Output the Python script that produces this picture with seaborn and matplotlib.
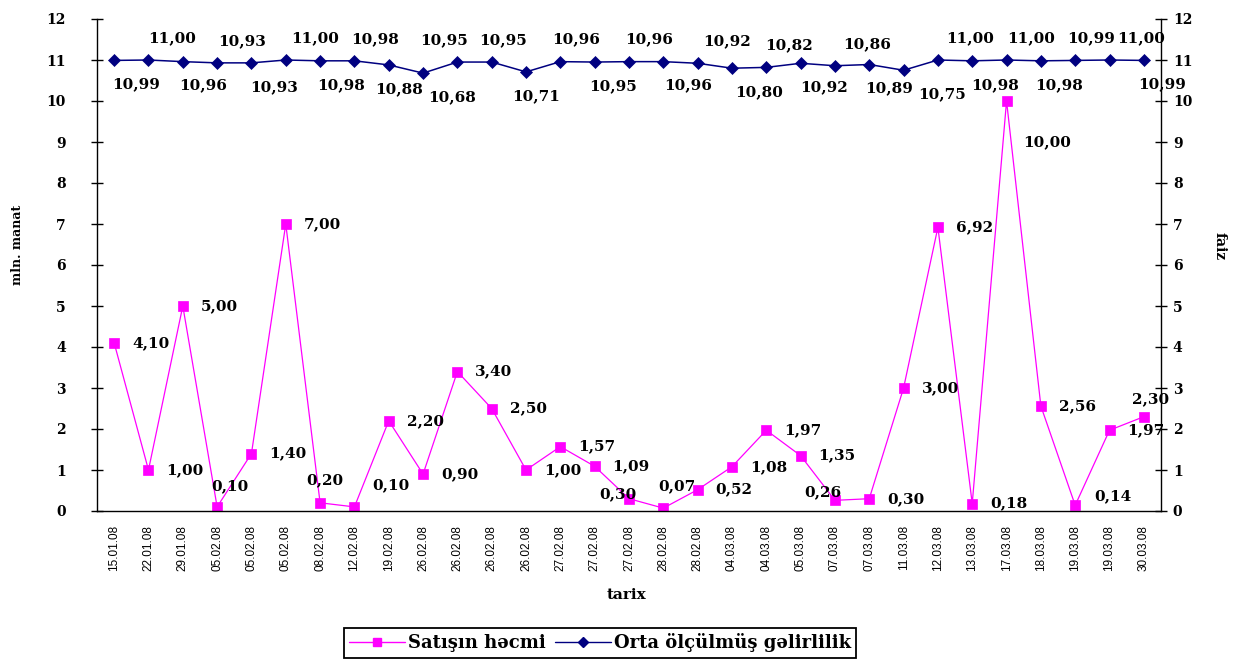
import matplotlib
matplotlib.use("Agg")
import matplotlib.pyplot as plt
from matplotlib.lines import Line2D
import numpy as np
import pandas as pd
import seaborn as sns

# Auction dates (x axis categories)
dates = ["15.01.08", "22.01.08", "29.01.08", "05.02.08", "05.02.08", "05.02.08",
         "08.02.08", "12.02.08", "19.02.08", "26.02.08", "26.02.08", "26.02.08",
         "26.02.08", "27.02.08", "27.02.08", "27.02.08", "28.02.08", "28.02.08",
         "04.03.08", "04.03.08", "05.03.08", "07.03.08", "07.03.08", "11.03.08",
         "12.03.08", "13.03.08", "17.03.08", "18.03.08", "19.03.08", "19.03.08",
         "30.03.08"]

# Sales volume, mln. manat (left axis)
sales = [4.10, 1.00, 5.00, 0.10, 1.40, 7.00, 0.20, 0.10, 2.20, 0.90, 3.40,
         2.50, 1.00, 1.57, 1.09, 0.30, 0.07, 0.52, 1.08, 1.97, 1.35, 0.26,
         0.30, 3.00, 6.92, 0.18, 10.00, 2.56, 0.14, 1.97, 2.30]

# Weighted average yield, % (right axis)
yields = [10.99, 11.00, 10.96, 10.93, 10.93, 11.00, 10.98, 10.98, 10.88,
          10.68, 10.95, 10.95, 10.71, 10.96, 10.95, 10.96, 10.96, 10.92,
          10.80, 10.82, 10.92, 10.86, 10.89, 10.75, 11.00, 10.98, 11.00,
          10.98, 10.99, 11.00, 10.99]

y_ticks = list(range(0, 13))

series_names = ["Satışın həcmi", "Orta ölçülmüş gəlirlilik"]

# Label placement for the sales series: (dx, dy) in pixels from the marker
sales_label_offsets = [(18, 0)] * len(sales)
for i, off in {3: (-6, 21), 6: (-14, 23), 7: (18, 22), 15: (-30, 5),
               16: (-5, 22), 21: (-31, 8), 26: (17, -41), 28: (19, 9),
               30: (-12, 18)}.items():
    sales_label_offsets[i] = off

# Label placement for the yield series: above ("t") or below ("b") and dx
yield_label_side = ["b", "t", "b", "t", "b", "t", "b", "t", "b", "b", "t",
                    "t", "b", "t", "b", "t", "b", "t", "b", "t", "b", "t",
                    "b", "b", "t", "b", "t", "b", "t", "t", "b"]
yield_label_dx = [22, 24, 20, 25, 23, 29, 21, 21, 10, 29, -13, 11, 10, 16,
                  18, 20, 25, 29, 27, 23, 23, 32, 20, 38, 32, 23, 25, 18, 16,
                  32, 18]

PINK = "#FF00FF"
NAVY = "#000080"

sns.set_style("white")
plt.rcParams["font.family"] = ["DejaVu Serif"]
plt.rcParams["font.weight"] = "bold"
plt.rcParams["text.color"] = "black"
plt.rcParams["axes.labelcolor"] = "black"
plt.rcParams["xtick.color"] = "black"
plt.rcParams["ytick.color"] = "black"

df = pd.DataFrame({"idx": np.arange(len(dates)), "sales": sales, "yield": yields})

fig = plt.figure(figsize=(12.47, 6.66), dpi=100)
ax = fig.add_axes([97 / 1247, 1 - 511 / 666, (1161 - 97) / 1247, (511 - 19) / 666])
ax2 = ax.twinx()

sns.lineplot(data=df, x="idx", y="sales", ax=ax, color=PINK, linewidth=0.9,
             marker="s", markersize=7.2, markeredgecolor=PINK,
             markerfacecolor=PINK, markeredgewidth=0.5)
sns.lineplot(data=df, x="idx", y="yield", ax=ax2, color=NAVY, linewidth=1.1,
             marker="D", markersize=6.2, markeredgecolor=NAVY,
             markerfacecolor=NAVY, markeredgewidth=0.5)

for a in (ax, ax2):
    a.set_xlim(-0.5, len(dates) - 0.5)
    a.set_ylim(0, 12)
    a.set_yticks(y_ticks)
    a.set_xlabel("")
    a.set_ylabel("")
    a.spines["top"].set_visible(False)
    for s in a.spines.values():
        s.set_color("black")
        s.set_linewidth(1.0)

ax.spines["right"].set_visible(False)
ax2.spines["left"].set_visible(False)
ax2.spines["bottom"].set_visible(False)

ax.set_yticklabels([str(t) for t in y_ticks], fontsize=10, fontweight="bold",
                   family="DejaVu Serif")
ax2.set_yticklabels([str(t) for t in y_ticks], fontsize=10, fontweight="bold",
                    family="DejaVu Serif")
ax.tick_params(axis="y", direction="inout", length=9, width=1.0, pad=18,
               colors="black")
ax2.tick_params(axis="y", direction="inout", length=9, width=1.0, pad=4,
                colors="black")

# Category labels at the centres, tick marks between categories
ax.set_xticks(np.arange(len(dates)))
ax.set_xticklabels(dates, rotation=90, fontsize=8.5, fontweight="normal",
                   family="Liberation Sans")
ax.set_xticks(np.arange(len(dates) + 1) - 0.5, minor=True)
ax.tick_params(axis="x", which="major", length=0, pad=10, colors="black")
ax.tick_params(axis="x", which="minor", direction="inout", length=8,
               width=1.0, colors="black")
ax2.tick_params(axis="x", which="both", length=0)

lbl_font = dict(fontsize=11, fontweight="bold", family="DejaVu Serif",
                color="black")

for i, (v, (dx, dy)) in enumerate(zip(sales, sales_label_offsets)):
    ax.annotate(f"{v:.2f}".replace(".", ","), xy=(i, v), xytext=(dx, dy),
                textcoords="offset pixels", ha="left", va="center", **lbl_font)

for i, (v, side, dx) in enumerate(zip(yields, yield_label_side, yield_label_dx)):
    dy = 22 if side == "t" else -24
    ax2.annotate(f"{v:.2f}".replace(".", ","), xy=(i, v), xytext=(dx, dy),
                 textcoords="offset pixels", ha="center", va="center",
                 **lbl_font)

fig.text(18 / 1247, 1 - 245 / 666, "mln. manat", rotation=90, ha="center",
         va="center", fontsize=9, fontweight="bold", color="black")
fig.text(1220 / 1247, 1 - 246 / 666, "faiz", rotation=270, ha="center",
         va="center", fontsize=10, fontweight="bold", color="black")
fig.text(627 / 1247, 1 - 595 / 666, "tarix", ha="center", va="center",
         fontsize=11, fontweight="bold", color="black")

handles = [
    Line2D([], [], color=PINK, linewidth=1.0, marker="s", markersize=6,
           markerfacecolor=PINK, markeredgecolor=PINK),
    Line2D([], [], color=NAVY, linewidth=1.0, marker="D", markersize=5,
           markerfacecolor=NAVY, markeredgecolor=NAVY),
]
leg = fig.legend(handles, series_names, loc="center",
                 bbox_to_anchor=(600 / 1247, 1 - 643 / 666), ncol=2,
                 frameon=True, fancybox=False, framealpha=1,
                 edgecolor="black", handlelength=3.1, handletextpad=0.15,
                 columnspacing=0.5, borderpad=0.3, labelcolor="black",
                 prop=dict(family="DejaVu Serif", weight="bold", size=13))
leg.get_frame().set_linewidth(1.3)

fig.savefig("out.png", dpi=100, facecolor="white")
